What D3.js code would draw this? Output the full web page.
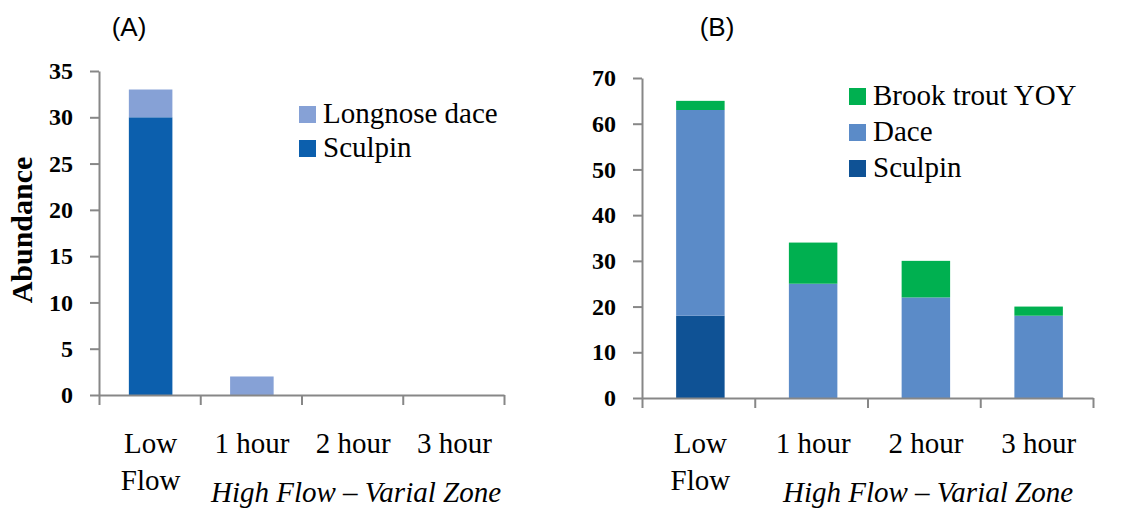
<!DOCTYPE html>
<html>
<head>
<meta charset="utf-8">
<script src="https://cdn.jsdelivr.net/npm/d3@7"></script>
<style>
  body { margin: 0; background: #fff; }
  svg { display: block; }
  .tick text { font-family: "Liberation Serif", serif; font-weight: bold; fill: #000; }
  .cat { font-family: "Liberation Serif", serif; font-size: 29px; fill: #000; }
  .legend text { font-family: "Liberation Serif", serif; font-size: 29px; fill: #000; }
</style>
</head>
<body>
<svg id="chart" width="1130" height="512"></svg>
<script>
// categories shared by both panels
let categories = ['Low Flow', '1 hour', '2 hour', '3 hour'];

// panel A values
let seriesA = ['Sculpin', 'Longnose dace'];
let sculpinA = [30, 0, 0, 0];
let longnoseDaceA = [3, 2, 0, 0];
let ticksA = [0, 5, 10, 15, 20, 25, 30, 35];

// panel B values
let seriesB = ['Sculpin', 'Dace', 'Brook trout YOY'];
let sculpinB = [18, 0, 0, 0];
let daceB = [45, 25, 22, 18];
let brookTroutB = [2, 9, 8, 2];
let ticksB = [0, 10, 20, 30, 40, 50, 60, 70];

let colorsA = { 'Sculpin': '#0c5fad', 'Longnose dace': '#86a1d6' };
let colorsB = { 'Sculpin': '#0f5295', 'Dace': '#5b8bc8', 'Brook trout YOY': '#00b050' };

let axisColor = '#878787';
let svg = d3.select('#chart');

function drawPanel(opts) {
  let g = svg.append('g');

  let y = d3.scaleLinear().domain(opts.yDomain).range([opts.y0, opts.y1]);
  let x = d3.scaleBand().domain(categories).range([opts.x0, opts.x1]);

  // stack the series
  let rows = categories.map(function(c, i) {
    let r = { cat: c };
    opts.series.forEach(function(s) { r[s] = opts.values[s][i]; });
    return r;
  });
  let stacked = d3.stack().keys(opts.series)(rows);

  let bw = x.bandwidth() * opts.barFrac;
  g.selectAll('g.layer')
    .data(stacked)
    .enter().append('g')
    .attr('class', 'layer')
    .attr('fill', function(d) { return opts.colors[d.key]; })
    .selectAll('rect')
    .data(function(d) { return d; })
    .enter().append('rect')
    .attr('x', function(d) { return x(d.data.cat) + (x.bandwidth() - bw) / 2 + opts.barShift; })
    .attr('width', bw)
    .attr('y', function(d) { return y(d[1]); })
    .attr('height', function(d) { return y(d[0]) - y(d[1]); });

  // y axis
  let yAxis = g.append('g')
    .attr('transform', 'translate(' + opts.x0 + ',0)')
    .call(d3.axisLeft(y).tickValues(opts.ticks).tickSize(9).tickSizeOuter(0).tickPadding(17));
  yAxis.selectAll('.tick text').style('font-size', '24px');

  // x axis with ticks at the category boundaries
  let xb = d3.scaleLinear().domain([0, categories.length]).range([opts.x0, opts.x1]);
  g.append('g')
    .attr('transform', 'translate(0,' + opts.y0 + ')')
    .call(d3.axisBottom(xb).tickValues(d3.range(0, categories.length + 1)).tickSize(10).tickSizeOuter(0).tickFormat(''));

  g.selectAll('.domain, .tick line').attr('stroke', axisColor).attr('stroke-width', 2);

  // category labels
  g.selectAll('text.cat')
    .data(categories)
    .enter().append('text')
    .attr('class', 'cat')
    .attr('text-anchor', 'middle')
    .attr('x', function(d) { return x(d) + x.bandwidth() / 2 + opts.barShift; })
    .attr('y', 453)
    .each(function(d) {
      let words = d === 'Low Flow' ? ['Low', 'Flow'] : [d];
      let t = d3.select(this);
      words.forEach(function(w, i) {
        t.append('tspan').attr('x', t.attr('x')).attr('dy', i === 0 ? 0 : 37).text(w);
      });
    });

  g.append('text')
    .attr('class', 'cat')
    .attr('x', opts.subX)
    .attr('y', 502)
    .attr('text-anchor', 'middle')
    .style('font-style', 'italic')
    .text('High Flow \u2013 Varial Zone');

  // title
  g.append('text')
    .attr('x', opts.titleX)
    .attr('y', 36)
    .attr('text-anchor', 'middle')
    .style('font-family', '"Liberation Sans", Arial, sans-serif')
    .style('font-size', '26px')
    .text(opts.title);

  // legend, listed top-down in reverse stacking order
  let leg = g.append('g').attr('class', 'legend');
  let items = opts.series.slice().reverse();
  items.forEach(function(s, i) {
    leg.append('rect')
      .attr('x', opts.legX)
      .attr('y', opts.legY + i * opts.legStep)
      .attr('width', 17)
      .attr('height', 17)
      .attr('fill', opts.colors[s]);
    leg.append('text')
      .attr('x', opts.legX + 24)
      .attr('y', opts.legY + i * opts.legStep + 17)
      .text(s);
  });
}

drawPanel({
  title: '(A)', titleX: 129,
  series: seriesA,
  values: { 'Sculpin': sculpinA, 'Longnose dace': longnoseDaceA },
  colors: colorsA,
  yDomain: [0, 35], ticks: ticksA,
  x0: 99, x1: 504, y0: 395, y1: 71,
  barFrac: 0.43, barShift: 1,
  subX: 356,
  legX: 299, legY: 106, legStep: 34
});

drawPanel({
  title: '(B)', titleX: 717,
  series: seriesB,
  values: { 'Sculpin': sculpinB, 'Dace': daceB, 'Brook trout YOY': brookTroutB },
  colors: colorsB,
  yDomain: [0, 70], ticks: ticksB,
  x0: 642, x1: 1093, y0: 398, y1: 78,
  barFrac: 0.43, barShift: 2,
  subX: 928,
  legX: 849, legY: 88, legStep: 36
});

// y axis title
svg.append('text')
  .attr('transform', 'translate(32,230) rotate(-90)')
  .attr('text-anchor', 'middle')
  .style('font-family', '"Liberation Serif", serif')
  .style('font-weight', 'bold')
  .style('font-size', '30px')
  .text('Abundance');
</script>
</body>
</html>
